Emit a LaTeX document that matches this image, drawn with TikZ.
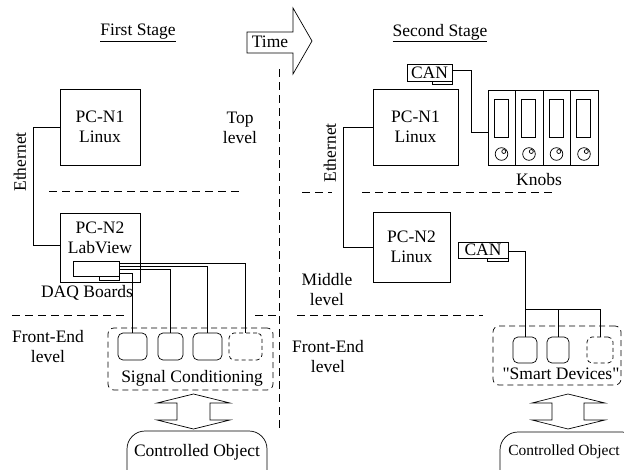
\documentclass[tikz,border=0pt]{standalone}
\usepackage{fontspec}
\setmainfont{Liberation Serif}
\begin{document}
\begin{tikzpicture}[x=1pt,y=-1pt,line width=0.7pt,
  every node/.style={font=\fontsize{17.5}{20}\selectfont,inner sep=0pt,align=center},
  box/.style={draw,minimum width=#1},
  bh/.style={minimum height=#1},
  dashline/.style={dash pattern=on 8pt off 5pt},
  devbox/.style={draw,rounded corners=5pt,minimum width=#1},
  dashdev/.style={draw,dash pattern=on 4pt off 3pt,rounded corners=5pt,minimum width=#1},
  groupbox/.style={draw,dash pattern=on 6pt off 4pt,rounded corners=6pt,minimum width=#1},
  wire/.style={draw},
  bigarrow/.style={draw,line join=miter}]
\useasboundingbox (0,0) rectangle (624,469);

% titles
\node (t1) at (138,33) {\underline{First Stage}};
\node (t2) at (440,33) {\underline{Second Stage}};

% time arrow
\draw[bigarrow] (247,32) -- (293,32) -- (293,8) -- (312,41) -- (293,74) -- (293,53) -- (247,53) -- cycle;
\node (time) at (270,42) {Time};

% stage separator
\coordinate (sepT) at (279,69);
\coordinate (sepB) at (279,430);
\draw[dashline] (sepT) -- (sepB);

% ---------- First stage ----------
\node[box=80pt,bh=76pt] (pcn1L) at (100,127) {PC-N1\\Linux};
\node (toplev) at (240,127.5) {Top\\level};
\node[box=80pt,bh=69pt] (pcn2L) at (100,247.5) {};
\node (pcn2Ltxt) at (100,238) {PC-N2\\LabView};
\node[box=46pt,bh=15pt] (daq) at (96,268.5) {};
\node[box=20pt,bh=4pt,anchor=north east] (daqtab) at (daq.south east) {};
\node (daqtxt) at (87,293) {DAQ Boards};

\coordinate (ethL1) at (33,127);
\coordinate (ethL2) at (33,245);
\draw[wire] (pcn1L.west |- ethL1) -- (ethL1) -- (ethL2) -- (pcn1L.west |- ethL2);
\node[rotate=90] (ethLtxt) at (20,162) {Ethernet};

\draw[dashline] (49,191) -- (243,191);
\draw[dashline] (12,315) -- (126,315);
\draw[dashline] (255,315) -- (279,315);

\node (feL) at (48,347) {Front-End\\level};

\node[groupbox=165pt,bh=62pt] (sig) at (190.5,359) {};
\node[devbox=29pt,bh=27pt] (d1) at (132.5,346.5) {};
\node[devbox=25pt,bh=27pt] (d2) at (170.5,346.5) {};
\node[devbox=29pt,bh=27pt] (d3) at (207.5,346.5) {};
\node[dashdev=33pt,bh=27pt] (d4) at (245.5,346.5) {};
\node (sigtxt) at (192,378) {Signal Conditioning};

\draw[wire] (daq.east |- 0,263) -| (d4.north);
\draw[wire] (daq.east |- 0,266) -| (d3.north);
\draw[wire] (daq.east |- 0,269.5) -| (d2.north);
\draw[wire] (daq.east |- 0,273) -| (d1.north);

\draw[bigarrow] (193.5,394) -- (230,403) -- (210,403) -- (210,420) -- (230,420) -- (193.5,429)
  -- (157,420) -- (177,420) -- (177,403) -- (157,403) -- cycle;

\begin{scope}
\clip (0,0) rectangle (624,469);
\draw (127,500) -- (127,449) arc[start angle=180,end angle=90,radius=18pt] -- (249,431)
  arc[start angle=90,end angle=0,radius=18pt] -- (267,500);
\draw (500,500) -- (500,450) arc[start angle=180,end angle=90,radius=18pt] -- (622,432)
  arc[start angle=90,end angle=0,radius=18pt] -- (640,500);
\end{scope}
\node (coL) at (197,452) {Controlled Object};

% ---------- Second stage ----------
\node[box=85pt,bh=76pt] (pcn1R) at (415.5,127) {PC-N1\\Linux};
\node[box=45pt,bh=17pt] (canT) at (429.5,72.5) {CAN};
\node[box=20pt,bh=3pt,anchor=north east] (canTtab) at (canT.south east) {};

% knob panel
\node[box=110pt,bh=75pt] (knobs) at (543,127.5) {};
\foreach \s [count=\i] in {488,515.5,543,570.5}{
  \ifnum\i>1 \draw (\s,90) -- (\s,165); \fi
  \draw (\s+6,99) rectangle (\s+20,137);
  \draw (\s+13.5,154) circle[radius=6.3pt];
  \draw (\s+15.8,151.5) circle[radius=2pt];
}
\node (knobtxt) at (539,180) {Knobs};
\coordinate (canTc) at (471,70);
\draw[wire] (canT.east |- canTc) -- (canTc) |- (knobs.west |- 0,132);

\node[box=77pt,bh=70pt] (pcn2R) at (411.5,247) {PC-N2\\Linux};
\coordinate (ethR1) at (343,127);
\coordinate (ethR2) at (343,247);
\draw[wire] (pcn1R.west |- ethR1) -- (ethR1) -- (ethR2) -- (pcn2R.west |- ethR2);
\node[rotate=90] (ethRtxt) at (330,153) {Ethernet};

\draw[dashline] (302,192) -- (332,192);
\draw[dashline] (362,192) -- (555,192);
\draw[dashline] (297,315) -- (483,315);

\node (midlev) at (327,289.5) {Middle\\level};
\node (feR) at (328,356.5) {Front-End\\level};

\node[box=50pt,bh=16pt] (canM) at (483,250) {CAN};
\node[box=21pt,bh=3pt,anchor=north east] (canMtab) at (canM.south east) {};

\node[groupbox=128pt,bh=59pt] (smart) at (557,355.5) {};
\node[devbox=24pt,bh=26pt] (r1) at (525,350) {};
\node[devbox=22pt,bh=26pt] (r2) at (558,350) {};
\node[dashdev=26pt,bh=26pt] (r3) at (600,350) {};
\node (smarttxt) at (561,374) {\textquotedbl Smart Devices\textquotedbl};

\coordinate (canMc) at (525,251);
\coordinate (busL) at (525,309);
\coordinate (busR) at (600,309);
\draw[wire] (canM.east |- canMc) -- (canMc) -- (r1.north);
\draw[wire] (busL) -- (busR) -- (r3.north);
\draw[wire] (r2.north |- busL) -- (r2.north);

\draw[bigarrow] (568,394) -- (605,403) -- (584,403) -- (584,420) -- (605,420) -- (568,429)
  -- (532,420) -- (552,420) -- (552,403) -- (532,403) -- cycle;
\node[font=\fontsize{15.5}{18}\selectfont] (coR) at (564,452) {Controlled Object};
\end{tikzpicture}
\end{document}
